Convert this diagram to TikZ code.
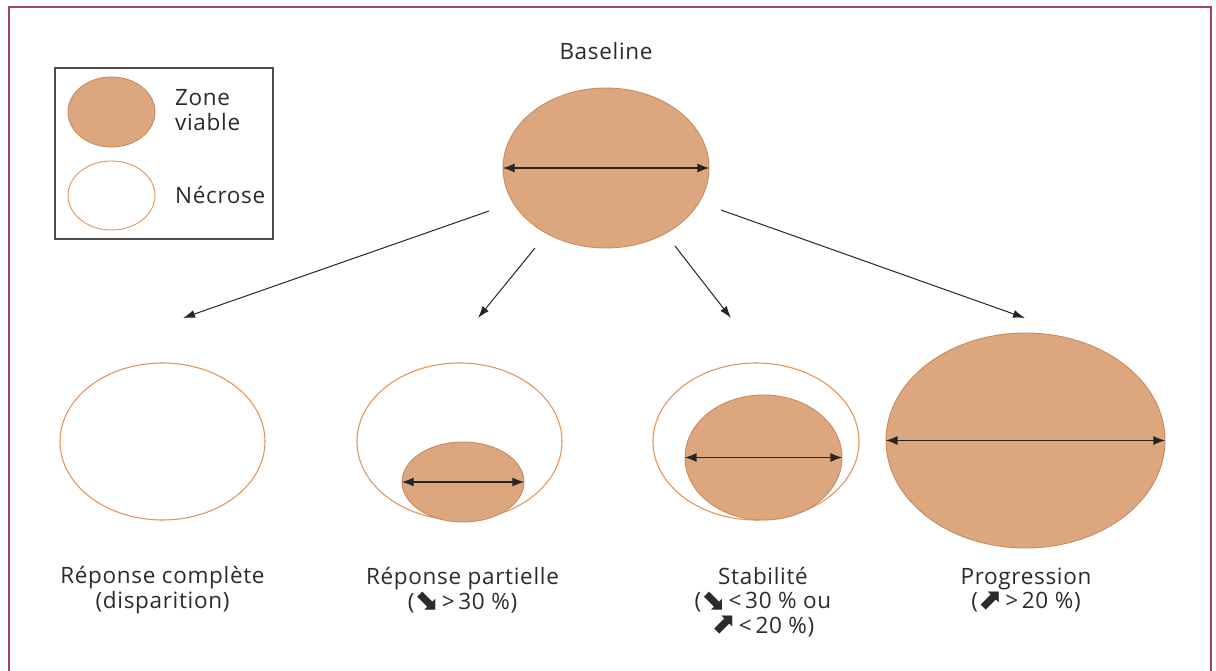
\documentclass[tikz,border=0pt]{standalone}
\usepackage{fontspec}
\setmainfont{Open Sans}[LetterSpace=3]
\newfontfamily\symfont{DejaVu Sans Bold}
\usetikzlibrary{shapes.geometric,arrows.meta}
\definecolor{tumour}{HTML}{DCA77E}
\definecolor{tumouredge}{HTML}{C98A5E}
\definecolor{necrosisedge}{HTML}{E3955F}
\definecolor{framecol}{HTML}{A8406A}
\definecolor{txt}{HTML}{2B2B2B}
\newcommand{\dn}{\kern-1pt\raisebox{-0.5pt}{\scalebox{1.3}{\symfont\char"2B0A}}}
\newcommand{\up}{\kern-1pt\raisebox{-0.5pt}{\scalebox{1.3}{\symfont\char"2B08}}}
\tikzset{
  viable/.style={ellipse, draw=tumouredge, line width=0.9pt, fill=tumour, inner sep=0pt},
  necrosis/.style={ellipse, draw=necrosisedge, line width=1.1pt, fill=white, inner sep=0pt},
  diam/.style={{Latex[length=12pt,width=9pt]}-{Latex[length=12pt,width=9pt]}, line width=1.6pt, black!85},
  flow/.style={-{Latex[length=12pt,width=8pt]}, line width=1pt, black!85},
  lbl/.style={text=txt, font=\fontsize{22.5}{24.5}\selectfont, align=center, inner sep=0pt},
}
\begin{document}
\begin{tikzpicture}[x=1pt,y=-1pt]
\useasboundingbox (0,0) rectangle (1216,671);
\fill[white] (0,0) rectangle (1216,671);
% outer frame
\draw[framecol, line width=1.6pt] (9,680) -- (9,7) -- (1211,7) -- (1211,680);

% legend
\node[draw=black!70, line width=1.3pt, minimum width=218pt, minimum height=171pt, inner sep=0pt] (legend) at (164,153.5) {};
\node[viable, minimum width=87pt, minimum height=70pt] (legviable) at (111.5,112) {};
\node[necrosis, minimum width=87pt, minimum height=69pt, line width=0.9pt] (legnecro) at (111.5,195.5) {};
\node[lbl, anchor=west, align=left] (legviabletxt) at (175,110) {Zone\\viable};
\node[lbl, anchor=west] (legnecrotxt) at (175,195) {Nécrose};

% baseline tumour
\node[lbl] (basetxt) at (606,51) {Baseline};
\node[viable, minimum width=206pt, minimum height=160pt] (base) at (606,168) {};
\draw[diam] (base.west) -- (base.east);

% complete response
\node[necrosis, minimum width=205pt, minimum height=157pt] (cr) at (162.5,441.5) {};
\node[lbl] (crtxt) at (162.5,590) {Réponse complète\\(disparition)};

% partial response
\node[necrosis, minimum width=205pt, minimum height=157pt] (pr) at (459.5,441.5) {};
\node[viable, minimum width=122pt, minimum height=80pt] (prin) at (463,482) {};
\draw[diam] (prin.west) -- (prin.east);
\node[lbl] (prtxt) at (462.5,590) {Réponse partielle\\(\dn\,>\,30~\%)};

% stable disease
\node[necrosis, minimum width=206pt, minimum height=157pt] (sd) at (756,441.5) {};
\node[viable, minimum width=157pt, minimum height=125pt] (sdin) at (763.5,457.5) {};
\draw[diam] (sdin.west) -- (sdin.east);
\node[lbl] (sdtxt) at (763,602) {Stabilité\\(\dn\,<\,30~\% ou\\\up\,<\,20~\%)};

% progression
\node[viable, minimum width=279pt, minimum height=215pt] (pd) at (1025.5,440.5) {};
\draw[diam] (pd.west) -- (pd.east);
\node[lbl] (pdtxt) at (1026,590) {Progression\\(\up\,>\,20~\%)};

% arrows from baseline to the four outcomes
\coordinate (s1) at (489,211); \coordinate (e1) at (183,318);
\coordinate (s2) at (535,248); \coordinate (e2) at (478,318);
\coordinate (s3) at (675,246); \coordinate (e3) at (731,318);
\coordinate (s4) at (721,210); \coordinate (e4) at (1025,318);
\draw[flow] (s1) -- (e1);
\draw[flow] (s2) -- (e2);
\draw[flow] (s3) -- (e3);
\draw[flow] (s4) -- (e4);
\end{tikzpicture}
\end{document}
